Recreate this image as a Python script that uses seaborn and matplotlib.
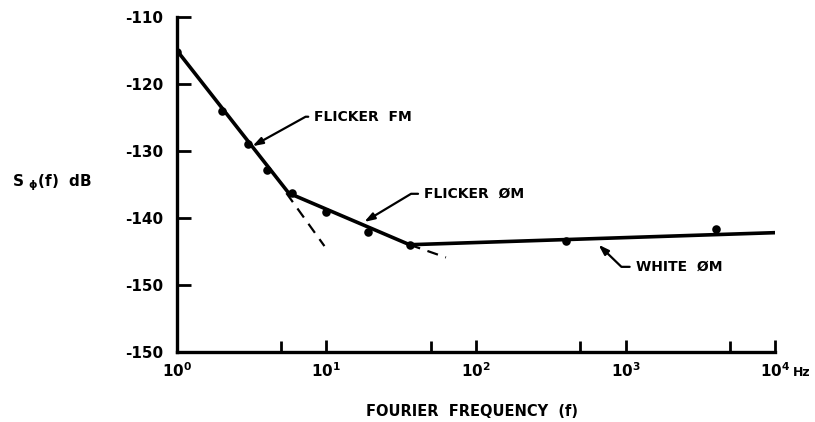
# phase_noise_plot.py
# S_phi(f) vs Fourier frequency, drawn with seaborn on a log x axis

import numpy as np
import pandas as pd
import seaborn as sns
import matplotlib.pyplot as plt
from matplotlib.ticker import FixedLocator, NullFormatter

sns.set_theme(style="ticks")
plt.rcParams["font.family"] = ["DejaVu Sans"]
plt.rcParams["font.weight"] = "bold"
plt.rcParams["mathtext.default"] = "bf"
for key in ("text.color", "axes.labelcolor", "xtick.color", "ytick.color", "axes.edgecolor"):
    plt.rcParams[key] = "black"

# ------------------------ data ------------------------
# solid asymptote line (flicker FM -> flicker PM -> white PM)
line_f = [1, 5.6, 36, 10000]
line_db = [-115.0, -136.3, -144.0, -142.2]

# measured points
meas_f = [1, 2, 3, 4, 5.9, 10, 19, 36, 400, 4000]
meas_db = [-115.2, -124.0, -129.0, -132.8, -136.3, -139.1, -142.1, -144.0, -143.4, -141.6]

# dashed extensions of the flicker FM and flicker PM slopes
fm_ext_f = [5.4, 9.7]
fm_ext_db = [-136.3, -144.2]
pm_ext_f = [36, 63]
pm_ext_db = [-144.0, -145.9]

x_ticks = [1, 10, 100, 1000, 10000]
x_labels = ["$10^0$", "$10^1$", "$10^2$", "$10^3$", "$10^4$"]
x_minor = [5, 50, 500, 5000]
y_ticks = [-160, -150, -140, -130, -120, -110]
y_labels = ["-150", "-150", "-140", "-130", "-120", "-110"]
# ---------------------------------------------------------------------------

fig = plt.figure(figsize=(8.15, 4.22), dpi=100)
ax = fig.add_axes([0.217, 0.166, 0.734, 0.794])

line = pd.DataFrame({"f": line_f, "db": line_db})
meas = pd.DataFrame({"f": meas_f, "db": meas_db})
fm_ext = pd.DataFrame({"f": fm_ext_f, "db": fm_ext_db})
pm_ext = pd.DataFrame({"f": pm_ext_f, "db": pm_ext_db})

sns.lineplot(data=line, x="f", y="db", color="black", linewidth=2.6, ax=ax, sort=False)
for ext in (fm_ext, pm_ext):
    sns.lineplot(data=ext, x="f", y="db", color="black", linewidth=1.6,
                 linestyle=(0, (5, 3.5)), ax=ax, sort=False)
sns.scatterplot(data=meas, x="f", y="db", color="black", s=38, edgecolor="black",
                linewidth=0, ax=ax, zorder=5)

ax.set_xscale("log")
ax.set_xlim(1, 10000)
ax.set_ylim(-160, -110)

ax.xaxis.set_major_locator(FixedLocator(x_ticks))
ax.set_xticklabels(x_labels)
ax.xaxis.set_minor_locator(FixedLocator(x_minor))
ax.xaxis.set_minor_formatter(NullFormatter())
ax.set_yticks(y_ticks)
ax.set_yticklabels(y_labels)

ax.tick_params(axis="x", which="major", direction="in", length=9, width=2,
               pad=7, labelsize=11)
ax.tick_params(axis="x", which="minor", direction="in", length=8, width=2)
ax.tick_params(axis="y", direction="in", length=10, width=2, pad=10, labelsize=11)

for side in ("top", "right"):
    ax.spines[side].set_visible(False)
for side in ("left", "bottom"):
    ax.spines[side].set_linewidth(2.4)

ax.set_xlabel("")
ax.set_ylabel("")
ax.text(1.03, -0.06, "Hz", transform=ax.transAxes, fontsize=9, fontweight="bold",
        ha="left", va="center")

fig.text(472 / 815, 1 - 411 / 422, "FOURIER  FREQUENCY  (f)", ha="center", va="center",
         fontsize=10.5, fontweight="bold")
fig.text(12 / 815, 1 - 183 / 422, r"S $_{\phi}$(f)  dB", ha="left", va="center",
         fontsize=11, fontweight="bold")

arrow = dict(arrowstyle="-|>,head_length=0.6,head_width=0.2", color="black", lw=1.6,
             shrinkA=2, shrinkB=0)
ax.annotate("FLICKER  FM", xy=(3.2, -129.3), xytext=(8.3, -124.9),
            fontsize=10, fontweight="bold", ha="left", va="center",
            arrowprops=dict(arrow, connectionstyle="angle,angleA=0,angleB=29,rad=0"))
ax.annotate("FLICKER  ØM", xy=(17.9, -140.6), xytext=(45, -136.4),
            fontsize=10, fontweight="bold", ha="left", va="center",
            arrowprops=dict(arrow, connectionstyle="angle,angleA=0,angleB=31,rad=0"))
ax.annotate("WHITE  ØM", xy=(660, -144.0), xytext=(1170, -147.3),
            fontsize=10, fontweight="bold", ha="left", va="center",
            arrowprops=dict(arrow, connectionstyle="angle,angleA=0,angleB=-44,rad=0"))

fig.savefig("out.png", dpi=100)
